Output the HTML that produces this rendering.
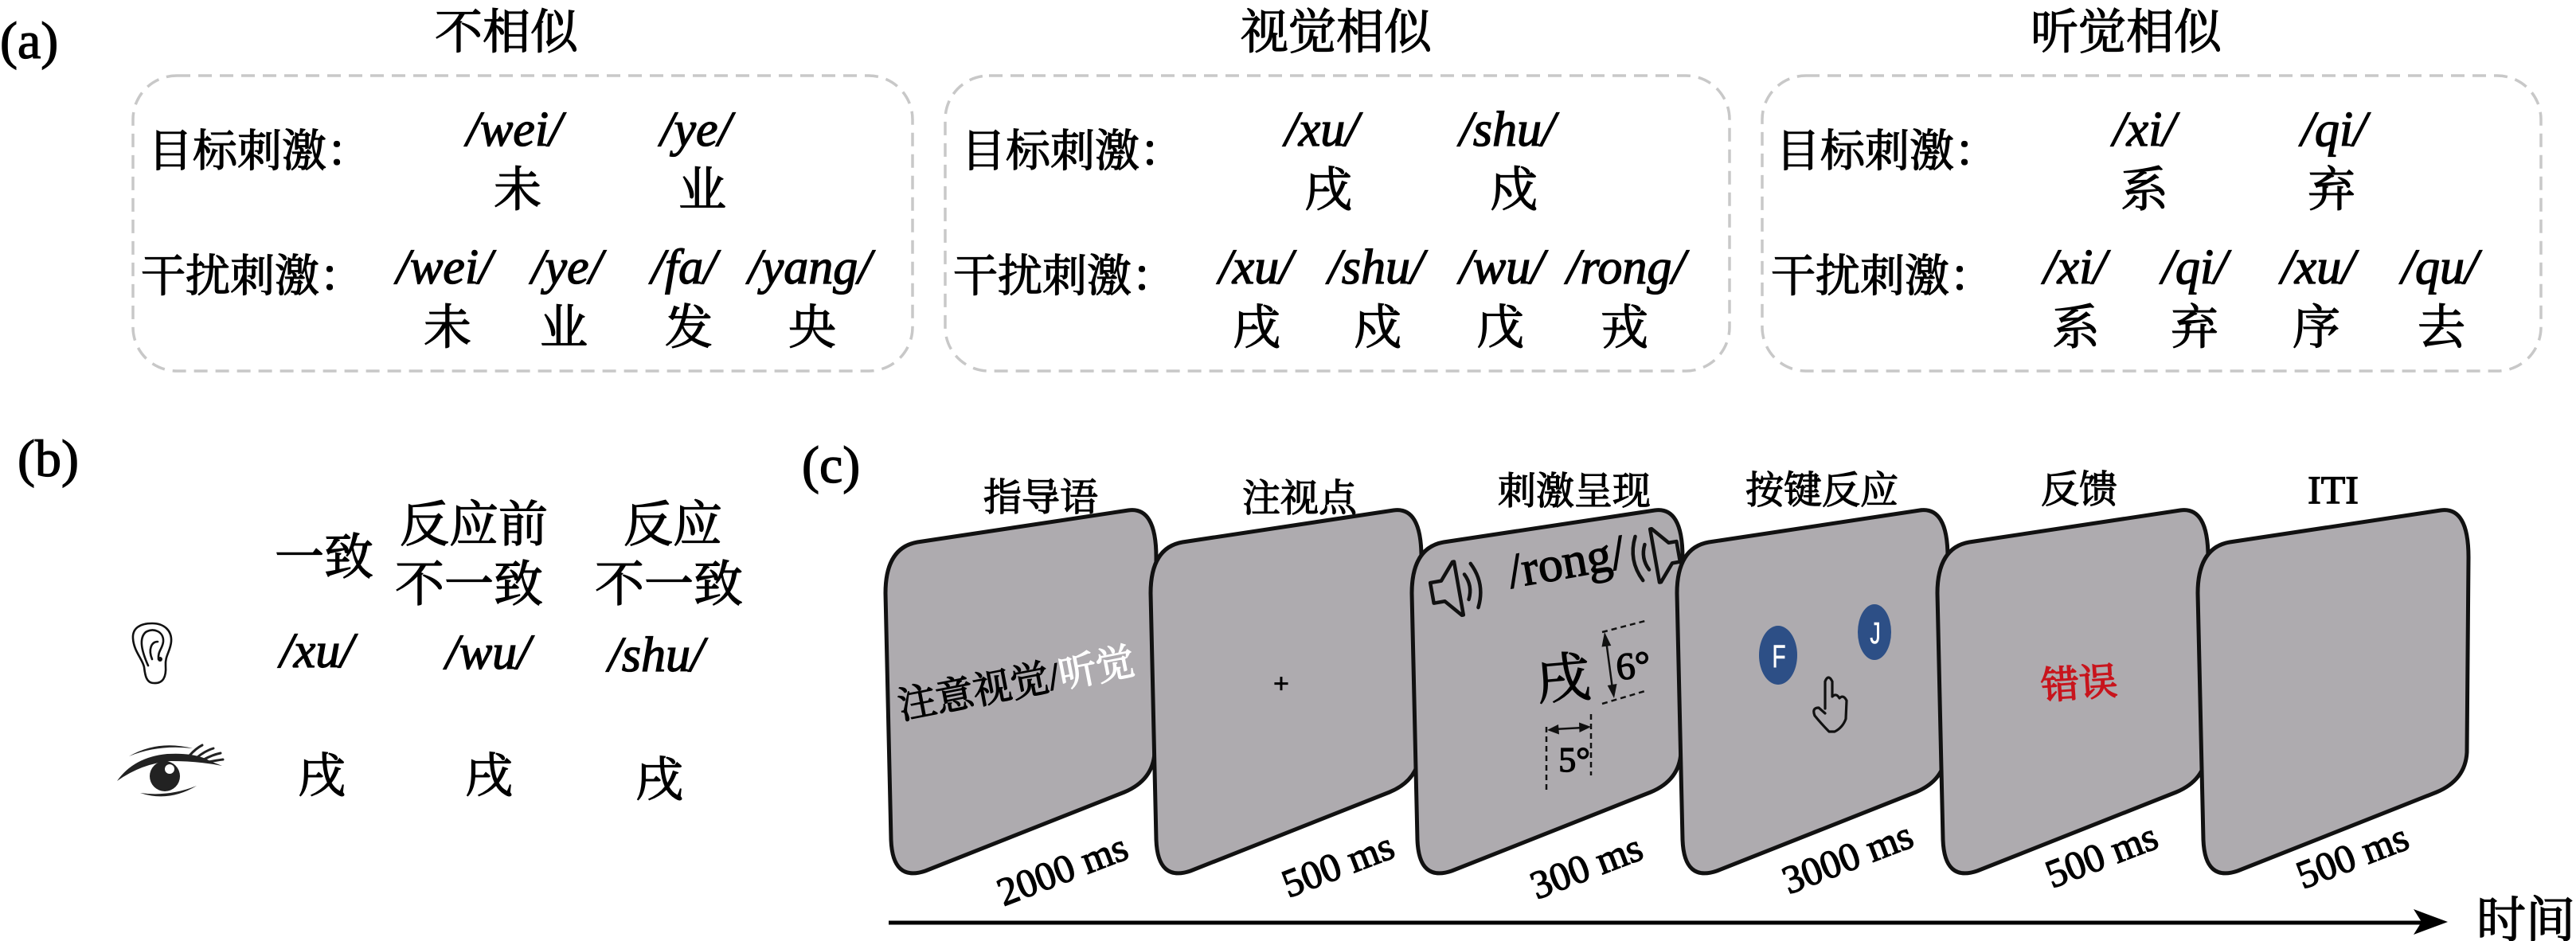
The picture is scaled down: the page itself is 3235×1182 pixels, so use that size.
<!DOCTYPE html>
<html><head><meta charset="utf-8">
<style>
html,body{margin:0;padding:0;background:#fff;}
svg{display:block;}
svg text{stroke:#000;stroke-width:1.3px;}
</style></head><body>
<svg width="3235" height="1182" viewBox="0 0 3235 1182" xmlns="http://www.w3.org/2000/svg">
<rect width="3235" height="1182" fill="#fff"/>

<!-- ===== (a) ===== -->
<text style="font-family:'Liberation Serif',serif" font-size="66" x="0" y="73">(a)</text>
<text style="font-family:'Liberation Serif','Noto Serif CJK SC',serif" font-size="60" x="636" y="61" text-anchor="middle">不相似</text>
<text style="font-family:'Liberation Serif','Noto Serif CJK SC',serif" font-size="60" x="1678" y="61" text-anchor="middle">视觉相似</text>
<text style="font-family:'Liberation Serif','Noto Serif CJK SC',serif" font-size="60" x="2670" y="61" text-anchor="middle">听觉相似</text>

<g fill="none" stroke="#c8c8c8" stroke-width="3.5" stroke-dasharray="17 10">
<rect x="167" y="95" width="979" height="371" rx="55"/>
<rect x="1187" y="95" width="985" height="371" rx="55"/>
<rect x="2213" y="95" width="978" height="371" rx="55"/>
</g>

<text style="font-family:'Liberation Serif','Noto Serif CJK SC',serif" font-size="56" x="186" y="209">目标刺激：</text>
<text style="font-family:'Liberation Serif','Noto Serif CJK SC',serif" font-size="56" x="177" y="366">干扰刺激：</text>
<text style="font-family:'Liberation Serif','Noto Serif CJK SC',serif" font-size="56" x="1207" y="209">目标刺激：</text>
<text style="font-family:'Liberation Serif','Noto Serif CJK SC',serif" font-size="56" x="1197" y="366">干扰刺激：</text>
<text style="font-family:'Liberation Serif','Noto Serif CJK SC',serif" font-size="56" x="2230" y="209">目标刺激：</text>
<text style="font-family:'Liberation Serif','Noto Serif CJK SC',serif" font-size="56" x="2224" y="366">干扰刺激：</text>

<text style="font-family:'Liberation Serif',serif;font-style:italic" font-size="62" text-anchor="middle" x="646" y="183">/wei/</text>
<text style="font-family:'Liberation Serif',serif;font-style:italic" font-size="62" text-anchor="middle" x="874" y="183">/ye/</text>
<text style="font-family:'Liberation Serif',serif;font-style:italic" font-size="62" text-anchor="middle" x="558" y="356">/wei/</text>
<text style="font-family:'Liberation Serif',serif;font-style:italic" font-size="62" text-anchor="middle" x="712" y="356">/ye/</text>
<text style="font-family:'Liberation Serif',serif;font-style:italic" font-size="62" text-anchor="middle" x="859" y="356">/fa/</text>
<text style="font-family:'Liberation Serif',serif;font-style:italic" font-size="62" text-anchor="middle" x="1017" y="356">/yang/</text>

<text style="font-family:'Liberation Serif',serif;font-style:italic" font-size="62" text-anchor="middle" x="1660" y="183">/xu/</text>
<text style="font-family:'Liberation Serif',serif;font-style:italic" font-size="62" text-anchor="middle" x="1893" y="183">/shu/</text>
<text style="font-family:'Liberation Serif',serif;font-style:italic" font-size="62" text-anchor="middle" x="1577" y="356">/xu/</text>
<text style="font-family:'Liberation Serif',serif;font-style:italic" font-size="62" text-anchor="middle" x="1728" y="356">/shu/</text>
<text style="font-family:'Liberation Serif',serif;font-style:italic" font-size="62" text-anchor="middle" x="1886" y="356">/wu/</text>
<text style="font-family:'Liberation Serif',serif;font-style:italic" font-size="62" text-anchor="middle" x="2042" y="356">/rong/</text>

<text style="font-family:'Liberation Serif',serif;font-style:italic" font-size="62" text-anchor="middle" x="2693" y="183">/xi/</text>
<text style="font-family:'Liberation Serif',serif;font-style:italic" font-size="62" text-anchor="middle" x="2931" y="183">/qi/</text>
<text style="font-family:'Liberation Serif',serif;font-style:italic" font-size="62" text-anchor="middle" x="2606" y="356">/xi/</text>
<text style="font-family:'Liberation Serif',serif;font-style:italic" font-size="62" text-anchor="middle" x="2756" y="356">/qi/</text>
<text style="font-family:'Liberation Serif',serif;font-style:italic" font-size="62" text-anchor="middle" x="2911" y="356">/xu/</text>
<text style="font-family:'Liberation Serif',serif;font-style:italic" font-size="62" text-anchor="middle" x="3064" y="356">/qu/</text>

<text style="font-family:'Noto Serif CJK SC',serif" font-size="60" text-anchor="middle" x="650" y="259">未</text>
<text style="font-family:'Noto Serif CJK SC',serif" font-size="60" text-anchor="middle" x="882" y="259">业</text>
<text style="font-family:'Noto Serif CJK SC',serif" font-size="60" text-anchor="middle" x="562" y="432">未</text>
<text style="font-family:'Noto Serif CJK SC',serif" font-size="60" text-anchor="middle" x="708" y="432">业</text>
<text style="font-family:'Noto Serif CJK SC',serif" font-size="60" text-anchor="middle" x="865" y="432">发</text>
<text style="font-family:'Noto Serif CJK SC',serif" font-size="60" text-anchor="middle" x="1020" y="432">央</text>

<text style="font-family:'Noto Serif CJK SC',serif" font-size="60" text-anchor="middle" x="1668" y="259">戌</text>
<text style="font-family:'Noto Serif CJK SC',serif" font-size="60" text-anchor="middle" x="1901" y="259">戍</text>
<text style="font-family:'Noto Serif CJK SC',serif" font-size="60" text-anchor="middle" x="1578" y="432">戌</text>
<text style="font-family:'Noto Serif CJK SC',serif" font-size="60" text-anchor="middle" x="1730" y="432">戍</text>
<text style="font-family:'Noto Serif CJK SC',serif" font-size="60" text-anchor="middle" x="1884" y="432">戊</text>
<text style="font-family:'Noto Serif CJK SC',serif" font-size="60" text-anchor="middle" x="2040" y="432">戎</text>

<text style="font-family:'Noto Serif CJK SC',serif" font-size="60" text-anchor="middle" x="2693" y="259">系</text>
<text style="font-family:'Noto Serif CJK SC',serif" font-size="60" text-anchor="middle" x="2928" y="259">弃</text>
<text style="font-family:'Noto Serif CJK SC',serif" font-size="60" text-anchor="middle" x="2607" y="432">系</text>
<text style="font-family:'Noto Serif CJK SC',serif" font-size="60" text-anchor="middle" x="2756" y="432">弃</text>
<text style="font-family:'Noto Serif CJK SC',serif" font-size="60" text-anchor="middle" x="2909" y="432">序</text>
<text style="font-family:'Noto Serif CJK SC',serif" font-size="60" text-anchor="middle" x="3066" y="432">去</text>

<!-- ===== (b) ===== -->
<text style="font-family:'Liberation Serif',serif" font-size="66" x="22" y="598">(b)</text>
<text style="font-family:'Noto Serif CJK SC',serif" font-size="62" text-anchor="middle" x="407" y="721">一致</text>
<text style="font-family:'Noto Serif CJK SC',serif" font-size="62" text-anchor="middle" x="595" y="680">反应前</text>
<text style="font-family:'Noto Serif CJK SC',serif" font-size="62" text-anchor="middle" x="589" y="755">不一致</text>
<text style="font-family:'Noto Serif CJK SC',serif" font-size="62" text-anchor="middle" x="845" y="680">反应</text>
<text style="font-family:'Noto Serif CJK SC',serif" font-size="62" text-anchor="middle" x="840" y="755">不一致</text>

<text style="font-family:'Liberation Serif',serif;font-style:italic" font-size="62" text-anchor="middle" x="398" y="838">/xu/</text>
<text style="font-family:'Liberation Serif',serif;font-style:italic" font-size="62" text-anchor="middle" x="613" y="840">/wu/</text>
<text style="font-family:'Liberation Serif',serif;font-style:italic" font-size="62" text-anchor="middle" x="824" y="843">/shu/</text>

<text style="font-family:'Noto Serif CJK SC',serif" font-size="60" text-anchor="middle" x="404" y="995">戌</text>
<text style="font-family:'Noto Serif CJK SC',serif" font-size="60" text-anchor="middle" x="614" y="995">戌</text>
<text style="font-family:'Noto Serif CJK SC',serif" font-size="60" text-anchor="middle" x="828" y="1000">戌</text>

<!-- ear -->
<g fill="none" stroke="#111" stroke-width="2.6" stroke-linecap="round">
<path d="M193,858 C183,858 182,846 181,838 C179,828 168,818 167,802 C166,789 176,783 191,783 C206,783 216,792 215,806 C214,818 207,824 208,836 C209,850 205,859 193,858 Z"/>
<path d="M186,836 C178,818 174,802 183,794 C192,788 206,793 205,806 C204,815 198,818 199,828"/>
<path d="M191,828 C186,816 190,806 198,806"/>
</g>
<circle cx="201" cy="828" r="3" fill="#111"/>

<!-- eye -->
<g fill="#222">
<path d="M162,950 Q198,929 242,940 Q198,935 162,950 Z"/>
<path d="M147,981 Q168,951 210,947 Q246,945 264,956 L279,962 Q250,956 214,956 Q178,959 147,981 Z"/>
<circle cx="207" cy="975" r="19"/>
<path d="M176,996 Q212,1008 247,987 Q212,1001 176,996 Z"/>
</g>
<g stroke="#222" stroke-width="3" stroke-linecap="round" fill="none">
<path d="M238,949 Q246,940 254,936"/>
<path d="M248,951 Q258,943 268,940"/>
<path d="M256,954 Q267,948 277,946"/>
<path d="M262,957 Q272,955 280,954"/>
</g>
<circle cx="213" cy="966" r="6" fill="#fff"/>

<!-- ===== (c) ===== -->
<text style="font-family:'Liberation Serif',serif" font-size="66" x="1007" y="606">(c)</text>
<text style="font-family:'Noto Serif CJK SC',serif" font-size="48" text-anchor="middle" x="1307" y="641">指导语</text>
<text style="font-family:'Noto Serif CJK SC',serif" font-size="48" text-anchor="middle" x="1632" y="642">注视点</text>
<text style="font-family:'Noto Serif CJK SC',serif" font-size="48" text-anchor="middle" x="1977" y="633">刺激呈现</text>
<text style="font-family:'Noto Serif CJK SC',serif" font-size="48" text-anchor="middle" x="2288" y="632">按键反应</text>
<text style="font-family:'Noto Serif CJK SC',serif" font-size="48" text-anchor="middle" x="2611" y="631">反馈</text>
<text style="font-family:'Liberation Serif',serif" font-size="50" x="2930" y="632" text-anchor="middle">ITI</text>

<defs>
<path id="pn" d="M0,745 L7,1055 Q9,1108 50,1094 L300,995 Q336,980 338,945 L340,700 Q340,636 305,641 L40,681 Q0,688 0,745 Z"/>
</defs>
<use href="#pn" transform="translate(1112,0)" fill="#aeabaf" stroke="#111" stroke-width="5"/>
<text style="font-family:'Liberation Serif','Noto Serif CJK SC',serif" font-size="48" text-anchor="middle" transform="translate(1276,858) rotate(-11)" y="17"><tspan>注意视觉/</tspan><tspan fill="#fff" style="stroke:#fff">听觉</tspan></text>

<use href="#pn" transform="translate(1445,0)" fill="#aeabaf" stroke="#111" stroke-width="5"/>
<text style="font-family:'Liberation Serif',serif" font-size="34" x="1609" y="870" text-anchor="middle">+</text>

<use href="#pn" transform="translate(1773,0)" fill="#aeabaf" stroke="#111" stroke-width="5"/>
<!-- speakers -->
<g transform="translate(1826,740) rotate(-10)" fill="none" stroke="#111" stroke-width="4.5" stroke-linejoin="round" stroke-linecap="round">
<path d="M-28,-13 L-14,-13 L4,-34 L6,-34 L6,34 L4,34 L-14,13 L-28,13 Z"/>
<path d="M16,-16 Q24,0 16,16"/>
<path d="M26,-28 Q40,0 26,28"/>
</g>
<g transform="translate(2084,697) rotate(-10) scale(-1,1)" fill="none" stroke="#111" stroke-width="4.5" stroke-linejoin="round" stroke-linecap="round">
<path d="M-24,-13 L-14,-13 L4,-34 L6,-34 L6,34 L4,34 L-14,13 L-24,13 Z"/>
<path d="M16,-16 Q24,0 16,16"/>
<path d="M26,-28 Q40,0 26,28"/>
</g>
<text style="font-family:'Liberation Serif',serif" font-size="62" text-anchor="middle" transform="translate(1968,712) rotate(-10)" y="14">/rong/</text>
<text style="font-family:'Noto Serif CJK SC',serif" font-size="68" text-anchor="middle" transform="translate(1963,850) rotate(-5)" y="26">戌</text>
<!-- dimension lines -->
<g stroke="#111" stroke-width="2.5" stroke-dasharray="7 5" fill="none">
<line x1="2012" y1="794" x2="2066" y2="780"/>
<line x1="2012" y1="884" x2="2066" y2="868"/>
<line x1="1942" y1="913" x2="1942" y2="994"/>
<line x1="1998" y1="897" x2="1998" y2="974"/>
</g>
<g stroke="#111" stroke-width="2.5">
<line x1="2017" y1="805" x2="2025" y2="865"/>
<line x1="1952" y1="916" x2="1988" y2="914"/>
</g>
<g fill="#111">
<polygon points="2015,794 2023.3,811 2011.5,812.5"/>
<polygon points="2027,877 2030.5,859 2018.7,861"/>
<polygon points="1943,917 1958,922.5 1957,910"/>
<polygon points="1998,913 1983.5,920 1983,907.5"/>
</g>
<text style="font-family:'Liberation Serif',serif" font-size="48" text-anchor="middle" transform="translate(2051,836) rotate(-5)" y="16">6°</text>
<text style="font-family:'Liberation Serif',serif" font-size="44" text-anchor="middle" x="1977" y="969">5°</text>

<use href="#pn" transform="translate(2106,0)" fill="#aeabaf" stroke="#111" stroke-width="5"/>
<ellipse cx="2233" cy="823" rx="24" ry="37" fill="#2d4f86"/>
<ellipse cx="2354" cy="794" rx="21" ry="35" fill="#2d4f86"/>
<text style="font-family:'Liberation Sans',sans-serif;stroke:#fff;stroke-width:0.6px" font-size="40" fill="#fff" text-anchor="middle" transform="translate(2234,838) scale(0.7,1)">F</text>
<text style="font-family:'Liberation Sans',sans-serif;stroke:#fff;stroke-width:0.6px" font-size="38" fill="#fff" text-anchor="middle" transform="translate(2355,808) scale(0.7,1)">J</text>
<path d="M2292,890 L2292,856 Q2296,846 2301,856 L2301,875 Q2306,870 2310,877 Q2315,872 2319,880 L2318,903 Q2314,914 2304,919 L2297,919 Q2288,910 2279,899 Q2275,889 2284,889 L2292,896" fill="none" stroke="#111" stroke-width="3.2" stroke-linejoin="round" stroke-linecap="round"/>

<use href="#pn" transform="translate(2433,0)" fill="#aeabaf" stroke="#111" stroke-width="5"/>
<text style="font-family:'Noto Serif CJK SC',serif;stroke:#c8151d;stroke-width:1.5px" font-size="48" fill="#c8151d" text-anchor="middle" transform="translate(2611,857) rotate(-4)" y="18">错误</text>

<use href="#pn" transform="translate(2760,0)" fill="#aeabaf" stroke="#111" stroke-width="5"/>

<!-- durations -->
<text style="font-family:'Liberation Serif',serif" font-size="50" text-anchor="middle" transform="translate(1334,1092) rotate(-21)" y="17">2000 ms</text>
<text style="font-family:'Liberation Serif',serif" font-size="50" text-anchor="middle" transform="translate(1680,1086) rotate(-21)" y="17">500 ms</text>
<text style="font-family:'Liberation Serif',serif" font-size="50" text-anchor="middle" transform="translate(1992,1088) rotate(-21)" y="17">300 ms</text>
<text style="font-family:'Liberation Serif',serif" font-size="50" text-anchor="middle" transform="translate(2320,1077) rotate(-21)" y="17">3000 ms</text>
<text style="font-family:'Liberation Serif',serif" font-size="50" text-anchor="middle" transform="translate(2639,1074) rotate(-21)" y="17">500 ms</text>
<text style="font-family:'Liberation Serif',serif" font-size="50" text-anchor="middle" transform="translate(2954,1075) rotate(-21)" y="17">500 ms</text>

<!-- timeline -->
<line x1="1116" y1="1159" x2="3045" y2="1159" stroke="#000" stroke-width="5"/>
<polygon points="3074,1158 3031,1142 3041,1158 3031,1174" fill="#000"/>
<text style="font-family:'Noto Serif CJK SC',serif" font-size="62" x="3110" y="1177">时间</text>
</svg>
</body></html>
